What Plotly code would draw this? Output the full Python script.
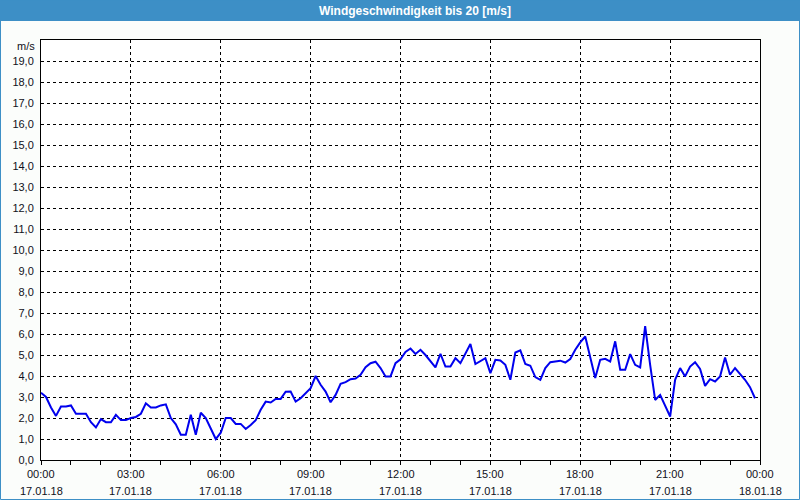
import pandas as pd
import plotly.graph_objects as go

# --- data -------------------------------------------------------------
start_time = "2018-01-17 00:00"
interval = "10min"
wind_speed = [
    3.2, 3.0, 2.5, 2.1, 2.55, 2.55, 2.6, 2.2, 2.2, 2.2,
    1.8, 1.55, 1.95, 1.8, 1.8, 2.15, 1.9, 1.9, 2.0, 2.05,
    2.2, 2.7, 2.5, 2.5, 2.6, 2.65, 2.0, 1.7, 1.2, 1.2,
    2.15, 1.2, 2.25, 2.0, 1.5, 1.0, 1.3, 2.0, 2.0, 1.72,
    1.72, 1.48, 1.67, 1.9, 2.39, 2.78, 2.74, 2.91, 2.91, 3.25,
    3.26, 2.78, 2.94, 3.18, 3.42, 4.0, 3.58, 3.26, 2.75, 3.1,
    3.63, 3.71, 3.85, 3.88, 4.06, 4.42, 4.61, 4.68, 4.38, 3.98,
    3.98, 4.61, 4.8, 5.15, 5.31, 5.05, 5.25, 5.0, 4.69, 4.41,
    5.06, 4.45, 4.45, 4.85, 4.61, 5.09, 5.52, 4.57, 4.69, 4.85,
    4.14, 4.77, 4.74, 4.53, 3.82, 5.12, 5.22, 4.57, 4.49, 3.95,
    3.82, 4.38, 4.66, 4.69, 4.73, 4.64, 4.81, 5.25, 5.6, 5.88,
    4.85, 3.9, 4.77, 4.82, 4.69, 5.65, 4.3, 4.3, 5.04, 4.53,
    4.41, 6.37, 4.53, 2.86, 3.1, 2.55, 2.07, 3.82, 4.38, 3.98,
    4.45, 4.66, 4.34, 3.53, 3.85, 3.74, 3.98, 4.88, 4.06, 4.38,
    4.1, 3.82, 3.47, 2.94,
]
times = pd.date_range(start_time, periods=len(wind_speed), freq=interval)

x_tick_values = ["2018-01-17 00:00", "2018-01-17 03:00", "2018-01-17 06:00",
                 "2018-01-17 09:00", "2018-01-17 12:00", "2018-01-17 15:00",
                 "2018-01-17 18:00", "2018-01-17 21:00", "2018-01-18 00:00"]
x_tick_times = ["00:00", "03:00", "06:00", "09:00", "12:00", "15:00",
                "18:00", "21:00", "00:00"]
x_tick_dates = ["17.01.18", "17.01.18", "17.01.18", "17.01.18", "17.01.18",
                "17.01.18", "17.01.18", "17.01.18", "18.01.18"]
y_tick_values = list(range(0, 20))
y_tick_labels = ["0,0", "1,0", "2,0", "3,0", "4,0", "5,0", "6,0", "7,0", "8,0",
                 "9,0", "10,0", "11,0", "12,0", "13,0", "14,0", "15,0", "16,0",
                 "17,0", "18,0", "19,0"]
title_text = "Windgeschwindigkeit bis 20 [m/s]"
unit_text = "m/s"

# --- layout helpers -----------------------------------------------------
W, H = 800, 500
L, R, T, B = 41, 40, 40, 40
PW, PH = W - L - R, H - T - B


def px_x(p):
    return (p - L) / PW


def px_y(p):
    return (H - B - p) / PH


FONT = "Liberation Sans, Arial, sans-serif"
TXT = "#101020"
BLUE_FRAME = "#3d8fc6"

fig = go.Figure()
fig.add_trace(go.Scatter(
    x=times, y=wind_speed, mode="lines",
    line=dict(color="#0000ee", width=2),
    showlegend=False, hoverinfo="skip",
))

annotations = [
    dict(text="<b>" + title_text + "</b>", xref="paper", yref="paper",
         x=px_x(415), y=px_y(10.5), xanchor="center", yanchor="middle",
         showarrow=False, font=dict(family=FONT, size=12, color="#ffffff")),
    dict(text=unit_text, xref="paper", yref="paper",
         x=px_x(37), y=px_y(46), xanchor="right", yanchor="middle",
         showarrow=False, font=dict(family=FONT, size=11, color=TXT)),
]
# two-line x tick labels, placed at the axis tick values
for tv, tt, td in zip(x_tick_values, x_tick_times, x_tick_dates):
    annotations.append(dict(text=tt, xref="x", yref="paper", x=tv, y=px_y(474),
                            xanchor="center", yanchor="middle", showarrow=False,
                            font=dict(family=FONT, size=11, color=TXT)))
    annotations.append(dict(text=td, xref="x", yref="paper", x=tv, y=px_y(491),
                            xanchor="center", yanchor="middle", showarrow=False,
                            font=dict(family=FONT, size=11, color=TXT)))

fig.update_layout(
    width=W, height=H,
    margin=dict(l=L, r=R, t=T, b=B, pad=0),
    paper_bgcolor="#fbfdfb",
    plot_bgcolor="#ffffff",
    font=dict(family=FONT, size=11, color=TXT),
    xaxis=dict(
        type="date",
        range=["2018-01-17 00:00", "2018-01-18 00:00"],
        tickmode="array", tickvals=x_tick_values, showticklabels=False,
        ticks="outside", ticklen=4, tickcolor="#000", tickwidth=1,
        minor=dict(dtick=3600000, tick0="2018-01-17 00:00", ticks="outside",
                   ticklen=4, tickcolor="#000", tickwidth=1, showgrid=False),
        showgrid=True, gridcolor="#000", gridwidth=1, griddash="3px,3px",
        showline=True, linecolor="#000", linewidth=1, mirror=True,
        zeroline=False,
    ),
    yaxis=dict(
        range=[0, 20],
        tickmode="array", tickvals=y_tick_values, ticktext=y_tick_labels,
        ticks="", ticklabelstandoff=4,
        showgrid=True, gridcolor="#000", gridwidth=1, griddash="3px,3px",
        showline=True, linecolor="#000", linewidth=1, mirror=True,
        zeroline=False,
        tickfont=dict(family=FONT, size=11, color=TXT),
    ),
    shapes=[
        dict(type="rect", xref="paper", yref="paper", layer="above",
             x0=px_x(0), x1=px_x(W), y0=px_y(21), y1=px_y(0),
             fillcolor=BLUE_FRAME, line=dict(width=0)),
        dict(type="rect", xref="paper", yref="paper", layer="above",
             x0=px_x(0.5), x1=px_x(W - 0.5), y0=px_y(H - 0.5), y1=px_y(0),
             fillcolor="rgba(0,0,0,0)", line=dict(color=BLUE_FRAME, width=1)),
    ],
    annotations=annotations,
)

fig.write_html("out.html")
